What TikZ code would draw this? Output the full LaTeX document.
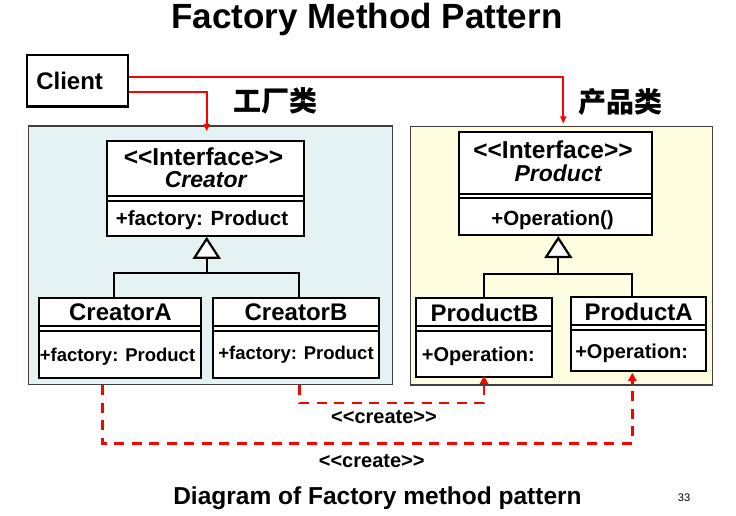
\documentclass[tikz,border=0pt]{standalone}
\usepackage{fontspec}
\setmainfont{Liberation Sans}
\newfontfamily\cjk{Noto Sans CJK SC}
\usetikzlibrary{arrows.meta}
\definecolor{creatorbg}{RGB}{228,242,244}
\definecolor{productbg}{RGB}{255,253,224}
\definecolor{linkred}{RGB}{255,0,0}
% guillemets kept apart so that << and >> stay as two signs
\newcommand{\lguil}{<\kern0pt<}
\newcommand{\rguil}{>\kern0pt>}
\begin{document}
\begin{tikzpicture}[x=1pt,y=-1pt,
  panel/.style={draw=black!75, line width=1.2pt, inner sep=0pt},
  umlbox/.style={draw, line width=2.2pt, fill=white, inner sep=0pt},
  divider/.style={line width=2pt},
  txt/.style={inner sep=0pt, font=\bfseries\fontsize{#1}{#1}\selectfont},
  itxt/.style={inner sep=0pt, font=\bfseries\itshape\fontsize{#1}{#1}\selectfont},
  gen/.style={line width=2.2pt},
  opentri/.style={gen, -{Triangle[open, length=22pt, width=28pt, fill=white]}},
  assoc/.style={draw=linkred, line width=2pt, -{Triangle[length=7pt, width=6pt]}},
  create/.style={draw=linkred, line width=2.8pt, dash pattern=on 10pt off 7.5pt,
    -{Triangle[length=8pt, width=8pt]}}
]
% canvas
\fill[white] (0,0) rectangle (736,515);
\path[use as bounding box] (0,0) rectangle (736,515);

% title and caption
\node[txt=35] (title) at (367,19.5) {Factory Method Pattern};
\node[txt=24.5] (caption) at (377.5,498.5) {Diagram of Factory method pattern};
\node[inner sep=0pt, font=\fontsize{11}{11}\selectfont] (pageno) at (684,498) {33};

% the two groups
\node[panel, fill=creatorbg, minimum width=363.6pt, minimum height=258.8pt] (creatorpanel) at (210.5,255.4) {};
\node[panel, fill=productbg, minimum width=301.6pt, minimum height=258.3pt] (productpanel) at (561.5,255.85) {};
\node[inner sep=0pt, font=\cjk\bfseries\fontsize{28}{28}\selectfont] (creatorhead) at (275,101) {工厂类};
\node[inner sep=0pt, font=\cjk\bfseries\fontsize{28}{28}\selectfont] (producthead) at (620,102) {产品类};

% client
\node[draw, line width=2.2pt, minimum width=100.5pt, minimum height=51.5pt, text width=82pt,
  inner xsep=9.5pt, align=left, font=\bfseries\fontsize{24}{24}\selectfont] (client) at (77.3,80.8) {Client};

% class boxes
\node[umlbox, minimum width=196.7pt, minimum height=95pt] (creator) at (205.65,188.2) {};
\node[umlbox, minimum width=192.7pt, minimum height=103.3pt] (product) at (555.35,183.35) {};
\node[umlbox, minimum width=161.7pt, minimum height=80.6pt] (creatorA) at (120.15,338) {};
\node[umlbox, minimum width=166.6pt, minimum height=80.6pt] (creatorB) at (296,338) {};
\node[umlbox, minimum width=136.6pt, minimum height=79pt] (productB) at (484,337.2) {};
\node[umlbox, minimum width=135.3pt, minimum height=74pt] (productA) at (638.35,333.7) {};

% compartment separators (double rule)
\draw[divider] ([yshift=-56pt]creator.north west) -- ([yshift=-56pt]creator.north east);
\draw[divider] ([yshift=-61pt]creator.north west) -- ([yshift=-61pt]creator.north east);
\draw[divider] ([yshift=-63.3pt]product.north west) -- ([yshift=-63.3pt]product.north east);
\draw[divider] ([yshift=-67.3pt]product.north west) -- ([yshift=-67.3pt]product.north east);
\draw[divider] ([yshift=-29.6pt]creatorA.north west) -- ([yshift=-29.6pt]creatorA.north east);
\draw[divider] ([yshift=-34.3pt]creatorA.north west) -- ([yshift=-34.3pt]creatorA.north east);
\draw[divider] ([yshift=-29.6pt]creatorB.north west) -- ([yshift=-29.6pt]creatorB.north east);
\draw[divider] ([yshift=-34.3pt]creatorB.north west) -- ([yshift=-34.3pt]creatorB.north east);
\draw[divider] ([yshift=-29pt]productB.north west) -- ([yshift=-29pt]productB.north east);
\draw[divider] ([yshift=-34pt]productB.north west) -- ([yshift=-34pt]productB.north east);
\draw[divider] ([yshift=-29.3pt]productA.north west) -- ([yshift=-29.3pt]productA.north east);
\draw[divider] ([yshift=-34.3pt]productA.north west) -- ([yshift=-34.3pt]productA.north east);

% class texts
\node[txt=24.5] (creatorst) at (203.5,157) {\lguil Interface\rguil};
\node[itxt=23] (creatorname) at (205.7,180) {Creator};
\node[txt=20.5] (creatorop) at (202,220) {+factory: Product};
\node[txt=24.5] (productst) at (553,150) {\lguil Interface\rguil};
\node[itxt=23] (productname) at (558,173.3) {Product};
\node[txt=20.5] (productop) at (552.5,220) {+Operation()};
\node[txt=24] (creatorAname) at (120.5,312.5) {CreatorA};
\node[txt=18.5] (creatorAop) at (117.5,356.7) {+factory: Product};
\node[txt=24] (creatorBname) at (296,312.5) {CreatorB};
\node[txt=18.5] (creatorBop) at (296,355) {+factory: Product};
\node[txt=24] (productBname) at (484.5,312.7) {ProductB};
\node[txt=20] (productBop) at (478.3,356.7) {+Operation:};
\node[txt=24] (productAname) at (638.7,311.7) {ProductA};
\node[txt=20] (productAop) at (631.7,353.3) {+Operation:};

% generalisation
\coordinate (cj) at (206.7,273);
\coordinate (pj) at (558.3,274);
\draw[gen] ([xshift=-6.15pt]creatorA.north) |- (cj) -| ([xshift=3pt]creatorB.north);
\draw[opentri] (cj) -- (creator.south -| cj);
\draw[gen] (productB.north) |- (pj) -| ([xshift=-6.65pt]productA.north);
\draw[opentri] (pj) -- (product.south -| pj);

% client associations
\draw[assoc] ([yshift=4.1pt]client.east) -| ([xshift=1.8pt,yshift=2.7pt]productpanel.north);
\draw[assoc] ([yshift=-10.9pt]client.east) -| ([xshift=-3.8pt,yshift=-5.7pt]creatorpanel.north);

% create dependencies
\draw[create] ([xshift=-17.85pt]creatorA.south |- creatorpanel.south) -- ++(0,58)
  -| ([xshift=-6.05pt,yshift=-1pt]productA.south);
\draw[create] ([xshift=3.3pt]creatorB.south |- creatorpanel.south) -- ++(0,17.5)
  -| ([yshift=2pt]productB.south);
\node[txt=20] (createinner) at (384,416.7) {\lguil create\rguil};
\node[txt=20] (createouter) at (371.7,460.7) {\lguil create\rguil};
\end{tikzpicture}
\end{document}
